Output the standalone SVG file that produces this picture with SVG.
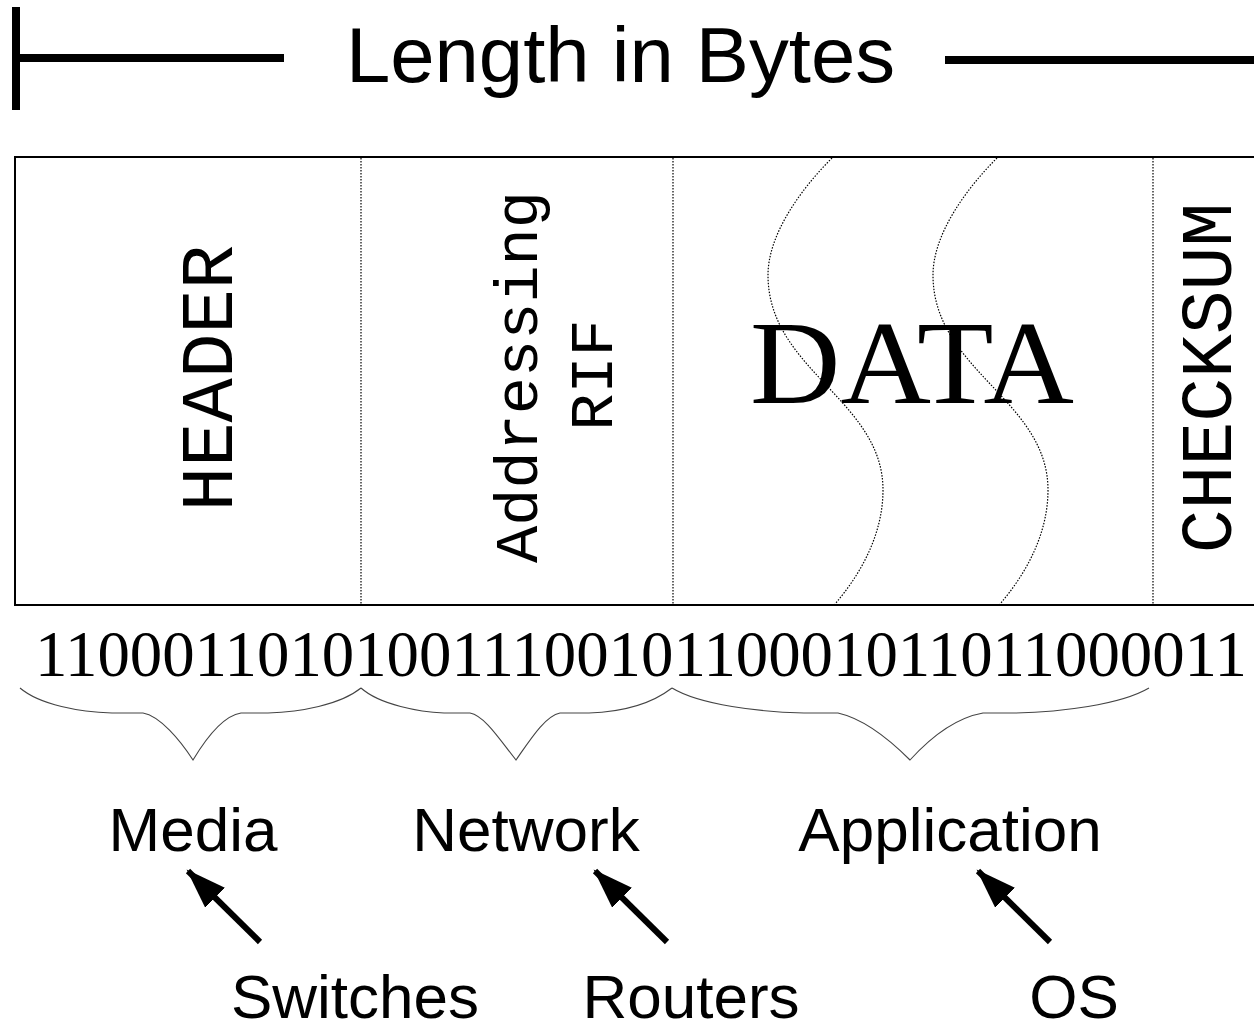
<svg xmlns="http://www.w3.org/2000/svg" width="1254" height="1032" viewBox="0 0 1254 1032">
<style>
.sans{font-family:"Liberation Sans",Arial,sans-serif;fill:#000}
.mono{font-family:"Courier New","Liberation Mono",monospace;fill:#000}
.serif{font-family:"Liberation Serif","Times New Roman",serif;fill:#000}
.dot{fill:none;stroke:#000;stroke-width:1.2;stroke-dasharray:1.5 1.5}
.brace{fill:none;stroke:#444;stroke-width:1.1}
.arrow{fill:none;stroke:#000;stroke-width:6}
.bar{stroke:#000;stroke-width:8;fill:none}
</style>
<defs>
<marker id="head" markerUnits="userSpaceOnUse" markerWidth="42" markerHeight="32" viewBox="0 0 42 32" refX="38" refY="16" orient="auto">
<path d="M0,2 L40,16 L0,30 Z" fill="#000"/>
</marker>
</defs>
<rect width="1254" height="1032" fill="#fff"/>
<g id="length-bar">
<line class="bar" x1="16" y1="7" x2="16" y2="110"/>
<line class="bar" x1="16" y1="58" x2="284" y2="58"/>
<line class="bar" x1="945" y1="60" x2="1254" y2="60"/>
<text class="sans" x="346" y="82" font-size="78" textLength="549" lengthAdjust="spacingAndGlyphs">Length in Bytes</text>
</g>
<g id="frame">
<rect x="15" y="157" width="1250" height="448" fill="none" stroke="#000" stroke-width="2"/>
<line class="dot" x1="361" y1="158" x2="361" y2="604"/>
<line class="dot" x1="673" y1="158" x2="673" y2="604"/>
<line class="dot" x1="1153" y1="158" x2="1153" y2="604"/>
<path class="dot" d="M832,158 C800,190 768,235 768,275 C768,370 883,400 883,490 C883,535 860,575 835,604"/>
<path class="dot" d="M997,158 C965,190 933,235 933,275 C933,370 1048,400 1048,490 C1048,535 1025,575 1000,604"/>
</g>
<g id="header">
<text class="mono" transform="translate(232,378) rotate(-90)" text-anchor="middle" font-size="74">HEADER</text>
</g>
<g id="addressing">
<text class="mono" transform="translate(537,377) rotate(-90)" text-anchor="middle" font-size="62">Addressing</text>
<text class="mono" transform="translate(612,375) rotate(-90)" text-anchor="middle" font-size="62">RIF</text>
</g>
<g id="data">
<text class="serif" x="750" y="403" font-size="118" textLength="324" lengthAdjust="spacingAndGlyphs">DATA</text>
</g>
<g id="checksum">
<text class="mono" transform="translate(1231,378) rotate(-90)" text-anchor="middle" font-size="73">CHECKSUM</text>
</g>
<g id="bits">
<text class="serif" x="35" y="676" font-size="65" textLength="1212" lengthAdjust="spacingAndGlyphs">11000110101001110010110001011011000011</text>
</g>
<g id="braces">
<path class="brace" d="M20,688 C40,705 80,712 112,713 L143,713 C160,716 180,740 193,760 C205,740 222,716 241,713 L268,713 C300,712 340,705 361,688"/>
<path class="brace" d="M361,688 C380,705 420,712 444,713 L470,713 C485,716 500,740 516,760 C530,740 545,716 560,713 L589,713 C620,712 650,705 672,688"/>
<path class="brace" d="M672,688 C700,705 760,712 804,713 L838,713 C860,718 885,735 910,760 C930,738 955,718 983,713 L1015,713 C1060,712 1120,705 1149,688"/>
</g>
<g id="media"><text class="sans" x="193" y="851" font-size="62" text-anchor="middle">Media</text></g>
<g id="network"><text class="sans" x="526" y="851" font-size="62" text-anchor="middle">Network</text></g>
<g id="application"><text class="sans" x="950" y="851" font-size="62" text-anchor="middle">Application</text></g>
<g id="switches"><text class="sans" x="355" y="1018" font-size="62" text-anchor="middle">Switches</text></g>
<g id="routers"><text class="sans" x="691" y="1018" font-size="62" text-anchor="middle">Routers</text></g>
<g id="os"><text class="sans" x="1074" y="1018" font-size="62" text-anchor="middle">OS</text></g>
<g id="connectors">
<line class="arrow" x1="260" y1="942" x2="188" y2="871" marker-end="url(#head)"/>
<line class="arrow" x1="667" y1="942" x2="595" y2="871" marker-end="url(#head)"/>
<line class="arrow" x1="1050" y1="942" x2="978" y2="871" marker-end="url(#head)"/>
</g>
</svg>
